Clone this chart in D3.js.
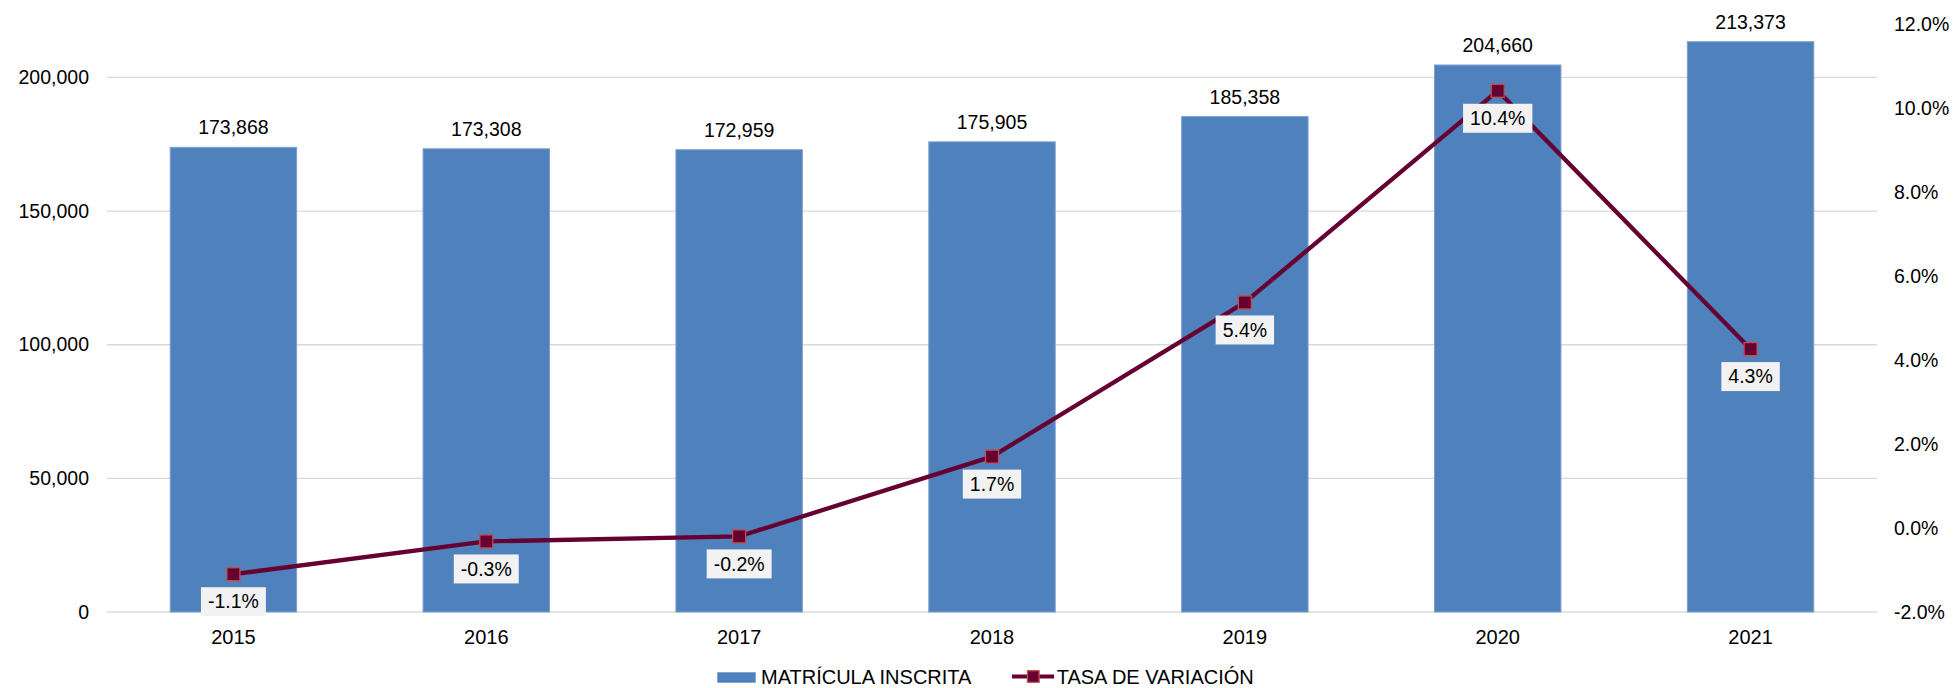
<!DOCTYPE html>
<html>
<head>
<meta charset="utf-8">
<script src="https://cdn.jsdelivr.net/npm/d3@7"></script>
<style>
  body { margin: 0; background: #fff; }
  text { font-family: "Liberation Sans", Arial, sans-serif; fill: #000; }
</style>
</head>
<body>
<div id="vis"></div>
<script>
const FRAME_WIDTH = 1954;
const FRAME_HEIGHT = 688;
const MARGINS = {left: 107, right: 77, top: 24, bottom: 76};

const years = ["2015", "2016", "2017", "2018", "2019", "2020", "2021"];
const matricula = [173868, 173308, 172959, 175905, 185358, 204660, 213373];
const tasa = [-0.011, -0.0032, -0.0020, 0.0170, 0.0537, 0.1041, 0.0426];
const leftTicks = [0, 50000, 100000, 150000, 200000];
const rightTicks = [-0.02, 0, 0.02, 0.04, 0.06, 0.08, 0.10, 0.12];

const BAR_COLOR = "#4f81bd";
const LINE_COLOR = "#660033";

const X0 = MARGINS.left, X1 = FRAME_WIDTH - MARGINS.right;
const Y0 = FRAME_HEIGHT - MARGINS.bottom; // baseline ~612
const Y1 = MARGINS.top;

const FRAME = d3.select("#vis")
  .append("svg")
    .attr("width", FRAME_WIDTH)
    .attr("height", FRAME_HEIGHT);

const X_SCALE = d3.scaleBand()
  .domain(years)
  .range([X0, X1])
  .paddingInner(0.5)
  .paddingOuter(0.25);

const Y_LEFT = d3.scaleLinear().domain([0, 220000]).range([Y0, Y1]);
const Y_RIGHT = d3.scaleLinear().domain([-0.02, 0.12]).range([Y0, Y1]);

const pct = (v) => (v * 100).toFixed(1) + "%";
const cx = (d) => X_SCALE(d) + X_SCALE.bandwidth() / 2;

// gridlines
FRAME.append("g")
  .selectAll("line")
  .data(leftTicks)
  .enter()
  .append("line")
    .attr("x1", X0)
    .attr("x2", X1)
    .attr("y1", (d) => Y_LEFT(d))
    .attr("y2", (d) => Y_LEFT(d))
    .attr("stroke", "#d9d9d9")
    .attr("stroke-width", 1.3);

// left axis
FRAME.append("g")
    .attr("transform", "translate(" + X0 + ",0)")
    .call(d3.axisLeft(Y_LEFT).tickValues(leftTicks).tickSize(0).tickPadding(18).tickFormat(d3.format(",")))
    .call(g => g.select(".domain").remove())
    .selectAll("text")
      .attr("font-size", "19.5px")
      .attr("font-family", "Liberation Sans, Arial, sans-serif")
      .attr("fill", "#000");

// right axis
FRAME.append("g")
    .attr("transform", "translate(" + X1 + ",0)")
    .call(d3.axisRight(Y_RIGHT).tickValues(rightTicks).tickSize(0).tickPadding(17).tickFormat(pct))
    .call(g => g.select(".domain").remove())
    .selectAll("text")
      .attr("font-size", "19.5px")
      .attr("font-family", "Liberation Sans, Arial, sans-serif")
      .attr("fill", "#000");

// bars
FRAME.selectAll(".bar")
  .data(years)
  .enter()
  .append("rect")
    .attr("class", "bar")
    .attr("x", (d) => X_SCALE(d))
    .attr("y", (d, i) => Y_LEFT(matricula[i]))
    .attr("width", X_SCALE.bandwidth())
    .attr("height", (d, i) => Y0 - Y_LEFT(matricula[i]))
    .attr("fill", BAR_COLOR)
    .attr("stroke", "#7ea0d0")
    .attr("stroke-width", 1);

// bottom axis
FRAME.append("g")
    .attr("transform", "translate(0," + Y0 + ")")
    .call(d3.axisBottom(X_SCALE).tickSize(0).tickPadding(17.5))
    .call(g => g.select(".domain").remove())
    .selectAll("text")
      .attr("font-size", "20px")
      .attr("font-family", "Liberation Sans, Arial, sans-serif")
      .attr("fill", "#000");

// bar value labels
FRAME.selectAll(".vlabel")
  .data(years)
  .enter()
  .append("text")
    .attr("class", "vlabel")
    .attr("x", cx)
    .attr("y", (d, i) => Y_LEFT(matricula[i]) - 13)
    .attr("text-anchor", "middle")
    .attr("font-size", "19.5px")
    .text((d, i) => d3.format(",")(matricula[i]));

// line
const line = d3.line()
  .x((d, i) => cx(years[i]))
  .y((d) => Y_RIGHT(d));

FRAME.append("path")
    .datum(tasa)
    .attr("d", line)
    .attr("fill", "none")
    .attr("stroke", LINE_COLOR)
    .attr("stroke-width", 4.3)
    .attr("stroke-linejoin", "round");

FRAME.selectAll(".marker")
  .data(tasa)
  .enter()
  .append("rect")
    .attr("class", "marker")
    .attr("x", (d, i) => cx(years[i]) - 6.5)
    .attr("y", (d) => Y_RIGHT(d) - 6.5)
    .attr("width", 13)
    .attr("height", 13)
    .attr("fill", LINE_COLOR)
    .attr("stroke", "#c0504d")
    .attr("stroke-width", 1.3);

// percentage labels in boxes
const plabels = FRAME.selectAll(".plabel")
  .data(tasa)
  .enter()
  .append("g")
    .attr("class", "plabel")
    .attr("transform", (d, i) => "translate(" + cx(years[i]) + "," + (Y_RIGHT(d) + 13) + ")");

plabels.append("rect")
    .attr("fill", "#f2f2f2")
    .attr("y", 0)
    .attr("height", 29);

plabels.append("text")
    .attr("text-anchor", "middle")
    .attr("y", 21.3)
    .attr("font-size", "19.5px")
    .text((d) => pct(d));

plabels.each(function () {
  const g = d3.select(this);
  const w = g.select("text").node().getComputedTextLength() + 14;
  g.select("rect").attr("x", -w / 2).attr("width", w);
});

// legend
const LEG = FRAME.append("g");
LEG.append("rect")
    .attr("x", 717.3).attr("y", 672.3)
    .attr("width", 38.4).attr("height", 10.4)
    .attr("fill", BAR_COLOR);
LEG.append("text")
    .attr("x", 761).attr("y", 684.3)
    .attr("font-size", "20px")
    .text("MATRÍCULA INSCRITA");
LEG.append("line")
    .attr("x1", 1012).attr("x2", 1054)
    .attr("y1", 676.5).attr("y2", 676.5)
    .attr("stroke", LINE_COLOR).attr("stroke-width", 4);
LEG.append("rect")
    .attr("x", 1027.5).attr("y", 670.7)
    .attr("width", 11.6).attr("height", 11.6)
    .attr("fill", LINE_COLOR)
    .attr("stroke", "#c0504d").attr("stroke-width", 1.3);
LEG.append("text")
    .attr("x", 1056.7).attr("y", 684.3)
    .attr("font-size", "20px")
    .text("TASA DE VARIACIÓN");
</script>
</body>
</html>
